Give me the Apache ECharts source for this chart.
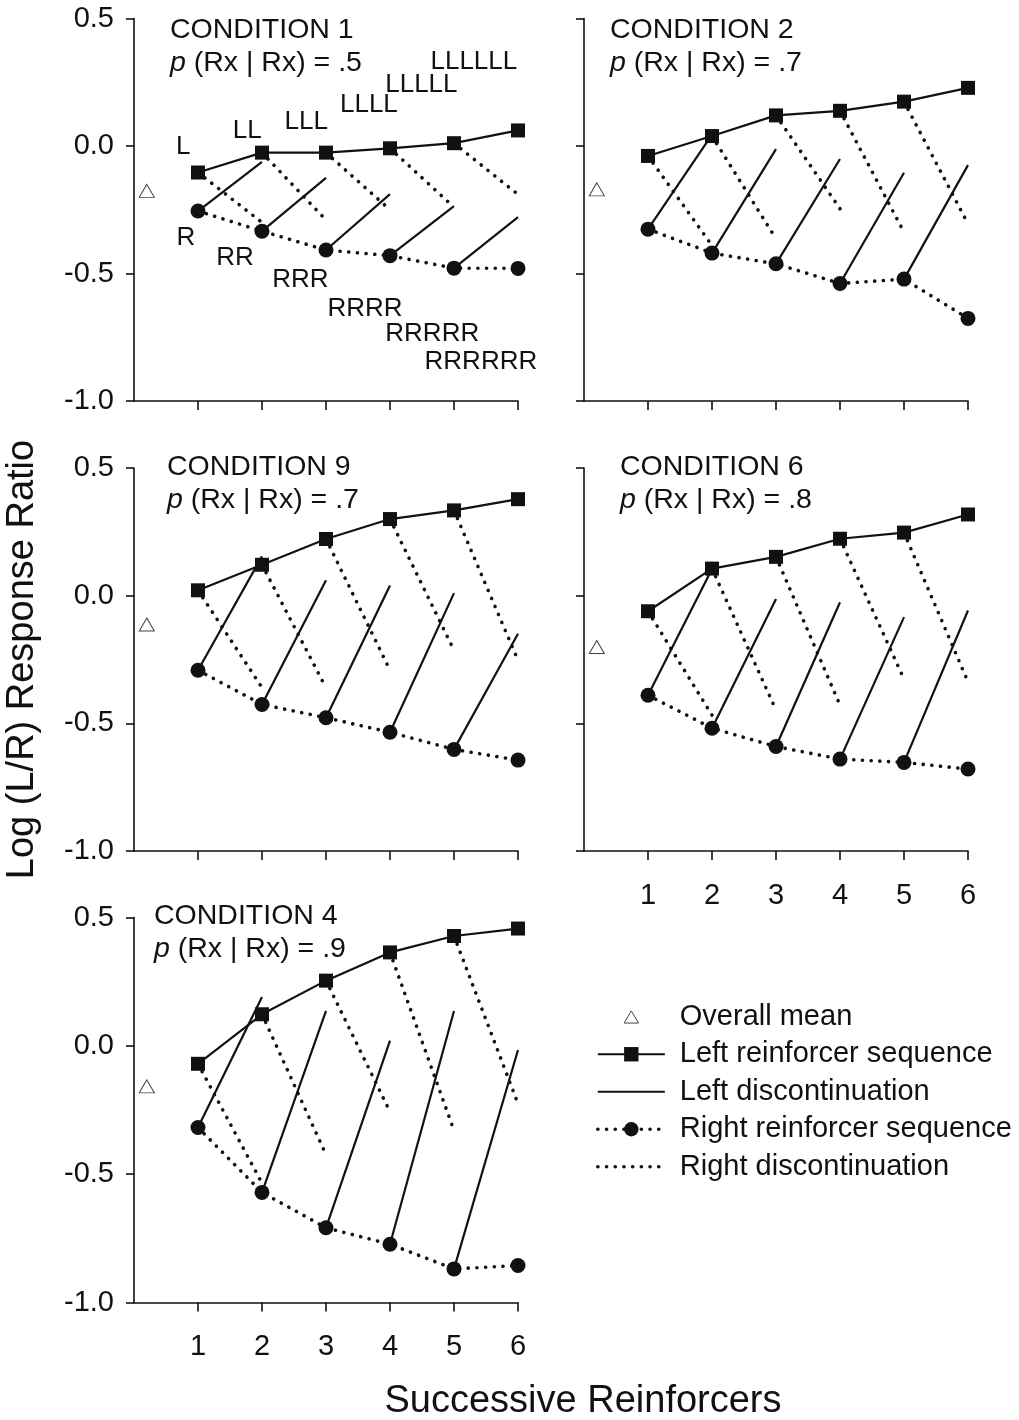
<!DOCTYPE html>
<html><head><meta charset="utf-8">
<script src="https://cdn.jsdelivr.net/npm/echarts@6/dist/echarts.min.js"></script>
<style>html,body{margin:0;padding:0;background:#fff}#c{width:1019px;height:1420px}</style>
</head><body><div id="c"></div>
<script>
// ---------- data ----------
const reinforcers = [1, 2, 3, 4, 5, 6];
const xTicks = [1, 2, 3, 4, 5, 6];
const conditionNames = ['CONDITION 1', 'CONDITION 2', 'CONDITION 9', 'CONDITION 6', 'CONDITION 4'];
const conditionP = ['.5', '.7', '.7', '.8', '.9'];
const meanX = 0.2;

const cond1Left = [-0.104, -0.026, -0.026, -0.009, 0.011, 0.061];
const cond1Right = [-0.255, -0.334, -0.408, -0.430, -0.479, -0.480];
const cond1LeftDisc = [-0.062, -0.125, -0.189, -0.236, -0.279];
const cond1RightDisc = [-0.30, -0.29, -0.25, -0.24, -0.19];
const cond1Mean = -0.176;

const cond2Left = [-0.039, 0.039, 0.120, 0.138, 0.174, 0.228];
const cond2Right = [-0.326, -0.420, -0.462, -0.539, -0.522, -0.676];
const cond2LeftDisc = [0.045, -0.012, -0.051, -0.105, -0.075];
const cond2RightDisc = [-0.39, -0.364, -0.246, -0.338, -0.305];
const cond2Mean = -0.17;

const cond9Left = [0.021, 0.121, 0.222, 0.300, 0.334, 0.378];
const cond9Right = [-0.292, -0.426, -0.478, -0.535, -0.602, -0.644];
const cond9LeftDisc = [0.154, 0.060, 0.040, 0.010, -0.149];
const cond9RightDisc = [-0.36, -0.361, -0.292, -0.214, -0.253];
const cond9Mean = -0.113;

const cond6Left = [-0.061, 0.106, 0.152, 0.223, 0.247, 0.318];
const cond6Right = [-0.390, -0.519, -0.591, -0.640, -0.653, -0.679];
const cond6LeftDisc = [0.104, -0.013, -0.026, -0.084, -0.058];
const cond6RightDisc = [-0.468, -0.448, -0.429, -0.327, -0.338];
const cond6Mean = -0.201;

const cond4Left = [-0.070, 0.123, 0.254, 0.364, 0.428, 0.457];
const cond4Right = [-0.318, -0.571, -0.709, -0.773, -0.869, -0.856];
const cond4LeftDisc = [0.190, 0.136, 0.020, 0.136, -0.016];
const cond4RightDisc = [-0.535, -0.424, -0.257, -0.330, -0.225];
const cond4Mean = -0.158;

// sequence annotations (panel 1)
const seqLabelsL = ['L', 'LL', 'LLL', 'LLLL', 'LLLLL', 'LLLLLL'];
const seqLabelsLX = [0.77, 1.77, 2.69, 3.67, 4.49, 5.31];
const seqLabelsLY = [-0.004, 0.059, 0.094, 0.161, 0.239, 0.331];
const seqLabelsR = ['R', 'RR', 'RRR', 'RRRR', 'RRRRR', 'RRRRRR'];
const seqLabelsRX = [0.81, 1.58, 2.60, 3.61, 4.66, 5.42];
const seqLabelsRY = [-0.362, -0.44, -0.525, -0.64, -0.738, -0.846];

// ---------- layout ----------
const FONT = "'Liberation Sans', Arial, Helvetica, sans-serif";
const INK = '#111';
const panels = [
  {left: cond1Left, right: cond1Right, ld: cond1LeftDisc, rd: cond1RightDisc, mean: cond1Mean},
  {left: cond2Left, right: cond2Right, ld: cond2LeftDisc, rd: cond2RightDisc, mean: cond2Mean},
  {left: cond9Left, right: cond9Right, ld: cond9LeftDisc, rd: cond9RightDisc, mean: cond9Mean},
  {left: cond6Left, right: cond6Right, ld: cond6LeftDisc, rd: cond6RightDisc, mean: cond6Mean},
  {left: cond4Left, right: cond4Right, ld: cond4LeftDisc, rd: cond4RightDisc, mean: cond4Mean}
];
const gridBoxes = [
  {left: 134, top: 18.5, width: 384, height: 382.5},
  {left: 584, top: 18.5, width: 384, height: 382.5},
  {left: 134, top: 468, width: 384, height: 383},
  {left: 584, top: 468, width: 384, height: 383},
  {left: 134, top: 917.5, width: 384, height: 385}
];
const showYLabels = [true, false, true, false, true];
const showXLabels = [false, false, false, true, true];
const titlePos = [[170, 14], [610, 14], [167, 451], [620, 451], [154, 900]];

const solid = {color: INK, width: 2.2, type: 'solid'};
const dotted = {color: INK, width: 3.6, type: [0.1, 8.6], cap: 'round'};

const grids = gridBoxes.map(g => Object.assign({containLabel: false}, g));
const xAxes = gridBoxes.map((g, k) => ({
  type: 'value', gridIndex: k, min: 0, max: 6, interval: 1,
  axisLine: {show: true, onZero: false, lineStyle: {color: INK, width: 1.6}},
  axisTick: {show: true, inside: false, length: 9, customValues: xTicks, lineStyle: {color: INK, width: 1.6}},
  axisLabel: {show: showXLabels[k], customValues: xTicks, margin: 30, fontSize: 29, color: INK, fontFamily: FONT},
  splitLine: {show: false}
}));
const yAxes = gridBoxes.map((g, k) => ({
  type: 'value', gridIndex: k, min: -1, max: 0.5, interval: 0.5,
  axisLine: {show: true, onZero: false, lineStyle: {color: INK, width: 1.6}},
  axisTick: {show: true, inside: false, length: 8, lineStyle: {color: INK, width: 1.6}},
  axisLabel: {show: showYLabels[k], margin: 20, fontSize: 29, color: INK, fontFamily: FONT,
    formatter: v => v.toFixed(1)},
  splitLine: {show: false},
  name: k === 2 ? 'Log (L/R) Response Ratio' : '',
  nameLocation: 'middle', nameGap: 92,
  nameTextStyle: {fontSize: 38, color: INK, fontFamily: FONT}
}));

const series = [];
panels.forEach((p, k) => {
  for (let i = 0; i < 5; i++) {
    series.push({
      name: 'Left discontinuation', type: 'line', xAxisIndex: k, yAxisIndex: k,
      data: [[reinforcers[i], p.right[i]], [reinforcers[i + 1], p.ld[i]]],
      symbol: 'none', itemStyle: {color: INK}, lineStyle: solid, z: 2, silent: true
    });
    series.push({
      name: 'Right discontinuation', type: 'line', xAxisIndex: k, yAxisIndex: k,
      data: [[reinforcers[i], p.left[i]], [reinforcers[i + 1], p.rd[i]]],
      symbol: 'none', itemStyle: {color: INK}, lineStyle: dotted, z: 2, silent: true
    });
  }
  series.push({
    name: 'Right reinforcer sequence', type: 'line', xAxisIndex: k, yAxisIndex: k,
    data: reinforcers.map((x, i) => [x, p.right[i]]),
    symbol: 'circle', symbolSize: 15, itemStyle: {color: INK}, lineStyle: dotted, z: 4
  });
  series.push({
    name: 'Left reinforcer sequence', type: 'line', xAxisIndex: k, yAxisIndex: k,
    data: reinforcers.map((x, i) => [x, p.left[i]]),
    symbol: 'rect', symbolSize: 14, itemStyle: {color: INK}, lineStyle: solid, z: 4
  });
  series.push({
    name: 'Overall mean', type: 'scatter', xAxisIndex: k, yAxisIndex: k,
    data: [[meanX, p.mean]], symbol: 'triangle', symbolSize: [15, 13],
    itemStyle: {color: '#fff', borderColor: '#444', borderWidth: 1, opacity: 1}, z: 4
  });
});
// sequence labels in panel 1
series.push({
  type: 'scatter', xAxisIndex: 0, yAxisIndex: 0, symbolSize: 0, silent: true,
  itemStyle: {opacity: 1},
  data: seqLabelsL.map((s, i) => ({name: s, value: [seqLabelsLX[i], seqLabelsLY[i]]}))
    .concat(seqLabelsR.map((s, i) => ({name: s, value: [seqLabelsRX[i], seqLabelsRY[i]]}))),
  label: {show: true, position: 'inside', formatter: d => d.name, fontSize: 26, color: INK, opacity: 1, fontFamily: FONT}
});

const richStyle = {
  c: {fontSize: 28.5, fontFamily: FONT, fontWeight: 'normal', color: INK, lineHeight: 33},
  i: {fontSize: 28.5, fontFamily: FONT, fontWeight: 'normal', color: INK, lineHeight: 33, fontStyle: 'italic'}
};
const titles = conditionNames.map((n, k) => ({
  text: '{c|' + n + '}\n{i|p}{c| (Rx | Rx) = ' + conditionP[k] + '}',
  left: titlePos[k][0], top: titlePos[k][1], padding: 0,
  textStyle: {fontWeight: 'normal', rich: richStyle}
}));

const hidden = {color: 'rgba(0,0,0,0)', borderWidth: 0, opacity: 0};
const chart = echarts.init(document.getElementById('c'), null, {renderer: 'canvas'});
chart.setOption({
  backgroundColor: '#fff',
  animation: false,
  title: titles,
  grid: grids, xAxis: xAxes, yAxis: yAxes,
  legend: {
    orient: 'vertical', left: 596, top: 998, padding: 0, itemWidth: 67, itemHeight: 18, itemGap: 0,
    selectedMode: false, symbolKeepAspect: true,
    textStyle: {fontSize: 29, color: INK, fontFamily: FONT, lineHeight: 37.5, padding: [0, 0, 0, 10]},
    data: [
      {name: 'Overall mean', icon: 'path://M0,0 M20,20 M10,3.5 L18,17 L2,17 Z',
        itemStyle: {color: '#fff', borderColor: '#444', borderWidth: 1, opacity: 1}},
      {name: 'Left reinforcer sequence', lineStyle: {width: 2.2}},
      {name: 'Left discontinuation', lineStyle: {width: 2.2}, itemStyle: hidden},
      {name: 'Right reinforcer sequence', lineStyle: {width: 3.6}},
      {name: 'Right discontinuation', lineStyle: {width: 3.6}, itemStyle: hidden}
    ]
  },
  graphic: [{
    type: 'text', x: 583, y: 1402,
    style: {text: 'Successive Reinforcers', textAlign: 'center', textVerticalAlign: 'middle',
      fontSize: 38, fontFamily: FONT, fill: INK}
  }],
  series: series
});
</script></body></html>
